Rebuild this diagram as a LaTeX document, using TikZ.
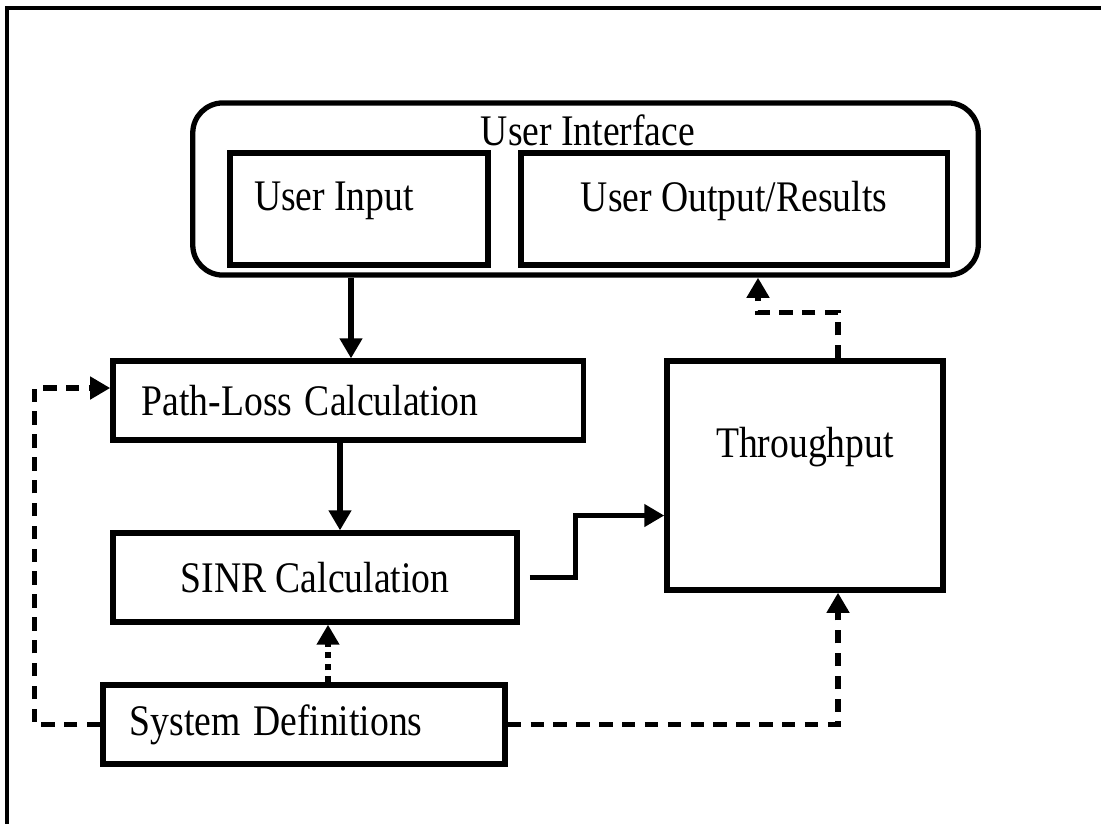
\documentclass[tikz,border=0pt]{standalone}
\usepackage{fontspec}
\setmainfont{Liberation Serif}
\usetikzlibrary{positioning, calc, arrows.meta}

\newcommand{\tall}[1]{\scalebox{1}[1.16]{#1}}

\begin{document}
\begin{tikzpicture}[
	x=0.01cm, y=-0.01cm,
	>={Triangle[length=5.7pt, width=6.2pt]},
	font=\fontsize{10.7}{13}\selectfont,
	box/.style={draw=black, line width=1.5pt, inner sep=0pt, align=center},
	left box/.style={draw=black, line width=1.5pt, inner ysep=0pt, align=left},
	flow/.style={->, line width=1.45pt},
	dashflow/.style={->, line width=1.55pt, dash pattern=on 3.8pt off 2.7pt},
	dotflow/.style={->, line width=1.5pt, dash pattern=on 1.7pt off 1.7pt}
	]
	
	\useasboundingbox (0,0) rectangle (1101,823);
	
	% --- outer frame ---
	\draw[line width=0.95pt] (7,840) -- (7,8) -- (1120,8);
	
	% --- user interface ---
	\node[box, rounded corners=0.3cm, minimum width=7.85cm, minimum height=1.72cm] (ui) at (585.5,189) {};
	\node (uititle) at (588,130) {\tall{User Interface}};
	\node[left box, inner xsep=0.29cm, text width=2.0cm, minimum height=1.12cm,
		label={[yshift=0.08cm]center:\hspace*{-0.5cm}\tall{User Input}}] (input) at (359,209) {};
	\node[box, minimum width=4.26cm, minimum height=1.12cm,
		label={[yshift=0.08cm]center:\tall{User Output/Results}}] (output) at (734,209) {};
	
	% --- calculation blocks ---
	\node[left box, inner xsep=0.29cm, text width=4.12cm, minimum height=0.79cm] (pathloss) at (348,400.5) {\tall{Path-Loss Calculation}};
	\node[box, minimum width=4.04cm, minimum height=0.89cm] (sinr) at (315,577.5) {\tall{SINR Calculation}};
	\node[box, minimum width=2.76cm, minimum height=2.29cm,
		label={[yshift=0.28cm]center:\tall{Throughput}}] (thr) at (805,475.5) {};
	\node[left box, inner xsep=0.27cm, text width=3.48cm, minimum height=0.79cm] (sysdef) at (304,724.5) {\tall{System Definitions}};
	
	% solid connections
	\draw[flow] ($(ui.south -| input.south)+(-8,0)$) -- ($(pathloss.north -| input.south)+(-8,0)$);
	\draw[flow] ($(pathloss.south)+(-8,0)$) -- ($(sinr.north -| pathloss.south)+(-8,0)$);
	\draw[flow] ($(sinr.east)+(10,0)$) -- ++(46,0) |- ($(thr.west)+(0,40)$);
	
	% dashed connections
	\draw[dashflow] ($(thr.north)+(33,0)$) -- ++(0,-46) -| ($(ui.south)+(172.5,0)$);
	\draw[dashflow] (sysdef.west) -- ++(-66,0) |- ($(pathloss.west)+(0,-12.5)$);
	\draw[dashflow] (sysdef.east) -| ($(thr.south)+(33,0)$);
	
	% dotted connection
	\draw[dotflow] ($(sysdef.north)+(24,0)$) -- ($(sinr.south -| sysdef.north)+(24,0)$);
	
\end{tikzpicture}
\end{document}
